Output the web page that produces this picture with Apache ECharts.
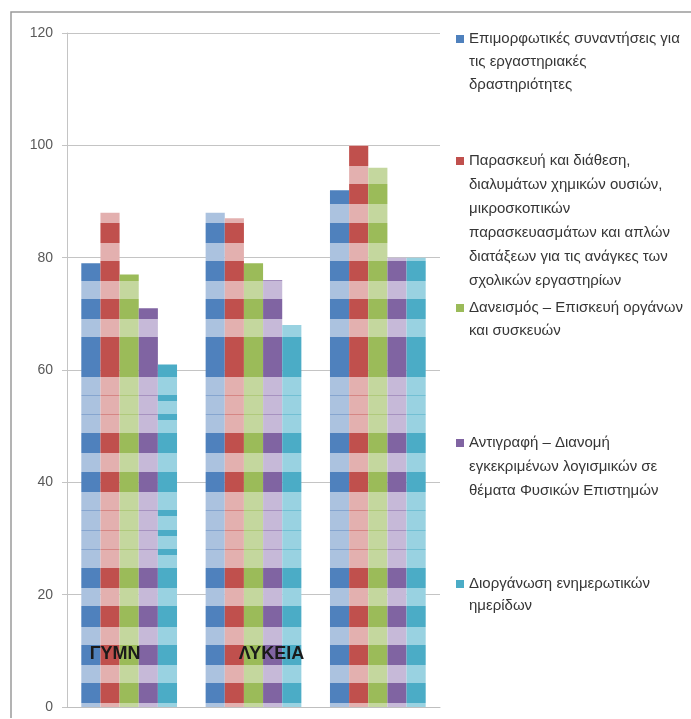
<!DOCTYPE html>
<html>
<head>
<meta charset="utf-8">
<script src="https://cdn.jsdelivr.net/npm/echarts@6/dist/echarts.min.js"></script>
<style>
  html, body { margin: 0; padding: 0; background: #ffffff; }
  #chart { width: 691px; height: 719px; }
</style>
</head>
<body>
<div id="chart"></div>
<script>
// School groups on the category axis
const categories = ['ΓΥΜΝ', 'ΛΥΚΕΙΑ', ''];

// Series names
const seriesNames = [
  'Επιμορφωτικές συναντήσεις για τις εργαστηριακές δραστηριότητες',
  'Παρασκευή και διάθεση, διαλυμάτων χημικών ουσιών, μικροσκοπικών παρασκευασμάτων και απλών διατάξεων για τις ανάγκες των σχολικών εργαστηρίων',
  'Δανεισμός – Επισκευή οργάνων και συσκευών',
  'Αντιγραφή – Διανομή εγκεκριμένων λογισμικών σε θέματα Φυσικών Επιστημών',
  'Διοργάνωση ενημερωτικών ημερίδων'
];

// Legend text, broken into lines
const legendLines = [
  ['Επιμορφωτικές συναντήσεις για', 'τις εργαστηριακές', 'δραστηριότητες'],
  ['Παρασκευή και διάθεση,', 'διαλυμάτων χημικών ουσιών,', 'μικροσκοπικών', 'παρασκευασμάτων και απλών', 'διατάξεων για τις ανάγκες των', 'σχολικών εργαστηρίων'],
  ['Δανεισμός – Επισκευή οργάνων', 'και συσκευών'],
  ['Αντιγραφή – Διανομή', 'εγκεκριμένων λογισμικών σε', 'θέματα Φυσικών Επιστημών'],
  ['Διοργάνωση ενημερωτικών', 'ημερίδων']
];

// Values per series (one per category)
const trainingMeetings = [79, 88, 92];
const solutionPreparation = [88, 87, 100];
const equipmentLoans = [77, 79, 96];
const softwareDistribution = [71, 76, 80];
const infoDays = [61, 68, 80];
const seriesValues = [trainingMeetings, solutionPreparation, equipmentLoans, softwareDistribution, infoDays];

// Value axis
const yMin = 0, yMax = 120, yStep = 20;

// Colours: [dark, light band, thin line]
const palette = [
  ['#4f81bd', '#abc2df', '#86a5cf'],
  ['#c0504d', '#e3b0af', '#d58684'],
  ['#9bbb59', '#c4d79e', '#b0c97c'],
  ['#8064a2', '#c6b9d8', '#a692bf'],
  ['#4bacc6', '#99d2e1', '#72bfd3']
];

// Horizontal banding of the bar fills (page pixels)
const H = 719;
const darkBands = [[146,166],[184,204],[223,243],[261,281],[299,319],[337,377],
                   [433,453],[472,492],[568,588],[606,627],[645,665],[683,703]];
const thinLines = [395, 414, 510, 530, 549];

function bandedFill(cols, thinWidth, thinColor) {
  const dark = cols[0], light = cols[1];
  const bands = darkBands.map(b => [b[0], b[1], dark])
    .concat(thinLines.map(y => [y, y + thinWidth, thinColor]))
    .sort((a, b) => a[0] - b[0]);
  const stops = [{ offset: 0, color: light }];
  bands.forEach(([a, b, c]) => {
    stops.push({ offset: a / H, color: light });
    stops.push({ offset: a / H, color: c });
    stops.push({ offset: b / H, color: c });
    stops.push({ offset: b / H, color: light });
  });
  stops.push({ offset: 1, color: light });
  return { type: 'linear', x: 0, y: 0, x2: 0, y2: H, global: true, colorStops: stops };
}

const series = seriesNames.map((name, i) => {
  const fill = bandedFill(palette[i], 1, palette[i][2]);
  const data = seriesValues[i].map((v, j) => {
    // first cyan bar carries wider banding
    if (i === 4 && j === 0) {
      return { value: v, itemStyle: { color: bandedFill(palette[i], 6, palette[i][0]) } };
    }
    return v;
  });
  return {
    name: name,
    type: 'bar',
    barGap: '0%',
    barCategoryGap: '23%',
    itemStyle: { color: fill },
    emphasis: { disabled: true },
    data: data
  };
});

// One legend block per series so every entry sits at its own height.
// Leading blank lines keep the swatch level with the first text line.
const legendCenters = [39, 161, 308, 443, 584];
const legendLineHeights = [23, 24, 23, 24, 22];
const legends = seriesNames.map((name, i) => {
  const n = legendLines[i].length;
  const lh = legendLineHeights[i];
  const text = new Array(n - 1).fill('').concat(legendLines[i]).join('\n');
  return {
    show: true,
    left: 456,
    top: legendCenters[i] - (2 * n - 1) * lh / 2,
    padding: 0,
    itemWidth: 8,
    itemHeight: 8,
    itemGap: 0,
    selectedMode: false,
    icon: 'rect',
    formatter: () => text,
    textStyle: {
      fontFamily: 'Liberation Sans',
      fontSize: 15,
      color: '#363636',
      lineHeight: lh
    },
    data: [{ name: name, itemStyle: { color: palette[i][0] } }]
  };
});

const chart = echarts.init(document.getElementById('chart'), null, { renderer: 'canvas' });
chart.setOption({
  backgroundColor: '#ffffff',
  animation: false,
  textStyle: { fontFamily: 'Liberation Sans' },
  grid: { left: 67, right: 251, top: 33, bottom: 12 },
  legend: legends,
  graphic: [{
    type: 'polyline',
    silent: true,
    shape: { points: [[11, 718], [11, 12], [691, 12]] },
    style: { stroke: '#9a9a9a', lineWidth: 1.5, fill: null }
  }],
  xAxis: {
    type: 'category',
    data: [
      { value: categories[0], textStyle: { padding: [0, 28, 0, 0] } },
      { value: categories[1], textStyle: { padding: [0, 0, 0, 36] } },
      { value: categories[2] }
    ],
    z: 10,
    axisLine: { lineStyle: { color: '#bfbfbf', width: 1 } },
    axisTick: { show: false },
    axisLabel: {
      margin: -62,
      fontSize: 18,
      fontWeight: 'bold',
      color: '#1a1a1a',
      fontFamily: 'Liberation Sans'
    }
  },
  yAxis: {
    type: 'value',
    min: yMin,
    max: yMax,
    interval: yStep,
    axisLine: { show: true, lineStyle: { color: '#c4c4c4', width: 1 } },
    axisTick: { show: true, length: 5, lineStyle: { color: '#c4c4c4' } },
    splitLine: { lineStyle: { color: '#c4c4c4', width: 1 } },
    axisLabel: { margin: 14, fontSize: 14, color: '#595959', fontFamily: 'Liberation Sans' }
  },
  series: series
});
</script>
</body>
</html>
